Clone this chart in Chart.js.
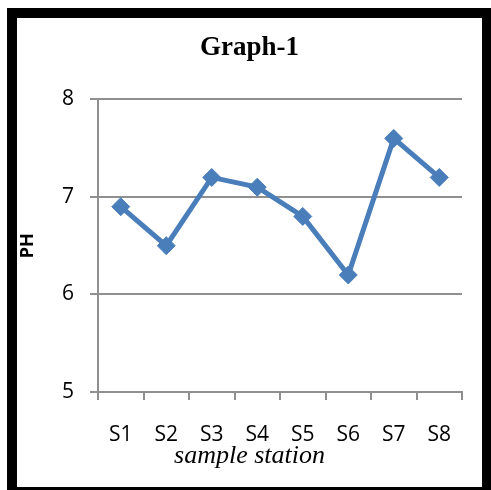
<!DOCTYPE html>
<html>
<head>
<meta charset="utf-8">
<script src="https://cdn.jsdelivr.net/npm/chart.js@4"></script>
<style>
  body { margin: 0; background: #fff; }
  #frame {
    position: absolute; left: 7px; top: 8px;
    width: 465px; height: 469px;
    border: 10px solid #000; background: #fff;
  }
  #phChart { position: absolute; left: 0; top: 0; }
</style>
</head>
<body>
<div id="frame">
  <canvas id="phChart" width="465" height="469"></canvas>
</div>
<script>
// sample stations and their pH readings
const stations = ["S1", "S2", "S3", "S4", "S5", "S6", "S7", "S8"];
const phValues = [6.9, 6.5, 7.2, 7.1, 6.8, 6.2, 7.6, 7.2];
const yMin = 5;
const yMax = 8;

const gray = '#8f8f8f';
const blue = '#4a7ebb';

new Chart(document.getElementById("phChart"), {
    type: 'line',
    data: {
        labels: stations,
        datasets: [{
            label: 'PH',
            data: phValues,
            borderColor: blue,
            backgroundColor: blue,
            borderWidth: 5,
            tension: 0,
            pointStyle: 'rectRot',
            pointRadius: 9,
            pointBorderWidth: 1,
            pointBackgroundColor: blue,
            pointBorderColor: blue
        }]
    },
    options: {
        responsive: false,
        animation: false,
        layout: { padding: { left: 0, right: 0, top: 0, bottom: 0 } },
        plugins: {
            legend: { display: false },
            tooltip: { enabled: false },
            title: {
                display: true,
                text: 'Graph-1',
                color: '#000',
                font: { family: 'Liberation Serif', size: 27, weight: 'bold', lineHeight: 1.2 },
                padding: { top: 14, bottom: 35 }
            },
            subtitle: {
                display: true,
                position: 'bottom',
                text: 'sample station',
                color: '#000',
                font: { family: 'Liberation Serif', size: 26, style: 'italic', lineHeight: 1 },
                padding: { top: 0, bottom: 18 }
            }
        },
        scales: {
            x: {
                offset: true,
                grid: { display: true, drawOnChartArea: false, drawTicks: true, tickLength: 8, offset: true, color: gray, lineWidth: 2 },
                border: { display: true, color: gray, width: 2 },
                ticks: { color: '#000', padding: 22, font: { family: 'Open Sans', size: 21, lineHeight: 1.2 } },
                afterFit: (scale) => { scale.height = 51; }
            },
            y: {
                min: yMin,
                max: yMax,
                ticks: { stepSize: 1, color: '#000', padding: 16, font: { family: 'Open Sans', size: 21 } },
                grid: { color: gray, lineWidth: 2, tickLength: 8 },
                border: { display: true, color: gray, width: 2 },
                title: {
                    display: true,
                    text: 'PH',
                    color: '#000',
                    font: { family: 'Open Sans', size: 18, weight: 'bold', lineHeight: 1.2 },
                    padding: { top: 0, bottom: 0 }
                },
                afterFit: (scale) => { scale.width = 81; }
            },
            yRight: {
                position: 'right',
                display: true,
                grid: { display: false },
                border: { display: false },
                ticks: { display: false },
                afterFit: (scale) => { scale.width = 20; }
            }
        }
    }
});
</script>
</body>
</html>
